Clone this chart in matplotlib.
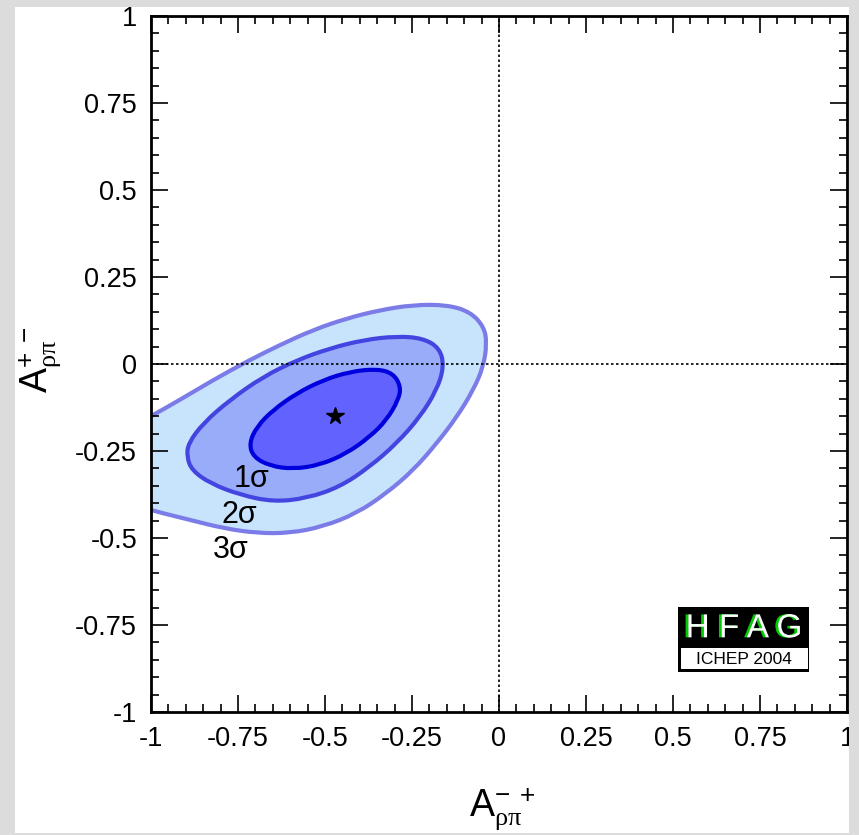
import matplotlib

matplotlib.use("Agg")
import matplotlib.patheffects as pe
import matplotlib.pyplot as plt
from matplotlib.patches import PathPatch, Rectangle
from matplotlib.path import Path
from matplotlib.ticker import MultipleLocator

plt.rcParams["font.family"] = ["Liberation Sans", "DejaVu Sans"]
plt.rcParams["mathtext.fontset"] = "custom"
plt.rcParams["mathtext.rm"] = "Liberation Serif"
plt.rcParams["mathtext.sf"] = "Liberation Sans"
plt.rcParams["mathtext.it"] = "Liberation Serif:italic"

# confidence-level contours in the (A_rho_pi^-+, A_rho_pi^+-) plane
cl1_x = [-0.718, -0.696, -0.649, -0.581, -0.505, -0.428, -0.351, -0.304, -0.282,
         -0.289, -0.323, -0.371, -0.438, -0.514, -0.591, -0.658, -0.706]
cl1_y = [-0.228, -0.180, -0.132, -0.084, -0.046, -0.022, -0.014, -0.027, -0.065,
         -0.103, -0.161, -0.209, -0.257, -0.290, -0.302, -0.293, -0.267]

cl2_x = [-0.897, -0.893, -0.850, -0.773, -0.677, -0.581, -0.486, -0.390, -0.294,
         -0.218, -0.170, -0.158, -0.179, -0.227, -0.294, -0.371, -0.457, -0.553,
         -0.649, -0.744, -0.830, -0.883]
cl2_y = [-0.266, -0.228, -0.170, -0.103, -0.036, 0.011, 0.045, 0.069, 0.080,
         0.074, 0.045, -0.008, -0.075, -0.152, -0.228, -0.295, -0.353, -0.386,
         -0.396, -0.376, -0.343, -0.305]

# the 3 sigma region runs past the left edge of the frame
cl3_x = [-1.05, -0.998, -0.917, -0.821, -0.725, -0.629, -0.534, -0.438, -0.342,
         -0.246, -0.150, -0.083, -0.043, -0.035, -0.045, -0.074, -0.121, -0.179,
         -0.246, -0.323, -0.409, -0.505, -0.601, -0.696, -0.792, -0.888, -0.965,
         -0.998, -1.05]
cl3_y = [-0.177, -0.149, -0.103, -0.046, 0.007, 0.055, 0.098, 0.131, 0.155,
         0.170, 0.170, 0.150, 0.107, 0.059, -0.008, -0.075, -0.152, -0.228,
         -0.305, -0.371, -0.429, -0.467, -0.486, -0.486, -0.472, -0.448, -0.429,
         -0.420, -0.405]

best_fit = (-0.47, -0.15)

sigma_labels = ["1σ", "2σ", "3σ"]
sigma_label_pos = [(-0.71, -0.33), (-0.745, -0.435), (-0.77, -0.535)]

tick_values = [-1, -0.75, -0.5, -0.25, 0, 0.25, 0.5, 0.75, 1]
tick_labels = ["-1", "-0.75", "-0.5", "-0.25", "0", "0.25", "0.5", "0.75", "1"]


def smooth_closed_path(xs, ys):
    """Closed outline through quadratic Bezier segments between vertex midpoints."""
    pts = list(zip(xs, ys))
    n = len(pts)
    mids = [((pts[i][0] + pts[(i + 1) % n][0]) / 2,
             (pts[i][1] + pts[(i + 1) % n][1]) / 2) for i in range(n)]
    verts = [mids[-1]]
    codes = [Path.MOVETO]
    for i in range(n):
        verts += [pts[i], mids[i]]
        codes += [Path.CURVE3, Path.CURVE3]
    verts.append(mids[-1])
    codes.append(Path.CLOSEPOLY)
    return Path(verts, codes)


fig = plt.figure(figsize=(8.59, 8.35), dpi=100, facecolor="#dcdcdc")
fig.patches.append(Rectangle((15 / 859, 2 / 835), 834 / 859, 826 / 835,
                             transform=fig.transFigure, facecolor="white",
                             edgecolor="none", zorder=-10))
ax = fig.add_axes([151 / 859, 123 / 835, 696 / 859, 696 / 835])

regions = [
    (cl3_x, cl3_y, "#c8e4fc", "#7c7ce8"),
    (cl2_x, cl2_y, "#98acfa", "#4444e0"),
    (cl1_x, cl1_y, "#6262ff", "#0000dd"),
]
for xs, ys, fill, edge in regions:
    ax.add_patch(PathPatch(smooth_closed_path(xs, ys), facecolor=fill,
                           edgecolor=edge, linewidth=3, zorder=1))

ax.plot(*best_fit, marker="*", color="black", markersize=13, zorder=3)

for label, (lx, ly) in zip(sigma_labels, sigma_label_pos):
    ax.text(lx, ly, label, fontsize=22, ha="center", va="center", zorder=3)

ax.axhline(0, color="black", linewidth=1.2, linestyle=(0, (1.5, 1.5)), zorder=2)
ax.axvline(0, color="black", linewidth=1.2, linestyle=(0, (1.5, 1.5)), zorder=2)

ax.set_xlim(-1, 1)
ax.set_ylim(-1, 1)
ax.set_xticks(tick_values)
ax.set_xticklabels(tick_labels)
ax.set_yticks(tick_values)
ax.set_yticklabels(tick_labels)
ax.xaxis.set_minor_locator(MultipleLocator(0.05))
ax.yaxis.set_minor_locator(MultipleLocator(0.05))
ax.tick_params(which="both", direction="in", top=True, right=True,
               labelsize=19.5, width=1.2, colors="black")
ax.tick_params(which="major", length=12)
ax.tick_params(which="minor", length=5.5)
ax.tick_params(axis="x", pad=10)
ax.tick_params(axis="y", pad=10)
for spine in ax.spines.values():
    spine.set_linewidth(2)

fig.text(502 / 859, 1 - 809 / 835, r"$\mathsf{A}_{\mathrm{\rho\pi}}^{\mathsf{-\ +}}$",
         fontsize=27, ha="center", va="center")
fig.text(40 / 859, 1 - 360 / 835, r"$\mathsf{A}_{\mathrm{\rho\pi}}^{\mathsf{+\ -}}$",
         fontsize=27, ha="center", va="center", rotation=90)

# HFAG badge: white lettering with a green drop shadow
ax.add_patch(Rectangle((0.514, -0.885), 0.377, 0.187, facecolor="black",
                       edgecolor="none", zorder=4))
ax.add_patch(Rectangle((0.523, -0.876), 0.365, 0.060, facecolor="white",
                       edgecolor="none", zorder=5))
ax.text(0.704, -0.761, "H F A G", fontsize=24, color="white", ha="center",
        va="center", zorder=6,
        path_effects=[pe.withSimplePatchShadow(offset=(-2, 0),
                                               shadow_rgbFace="#00cc00",
                                               alpha=1.0)])
ax.text(0.704, -0.848, "ICHEP 2004", fontsize=12.5, color="black", ha="center",
        va="center", zorder=6)

# grey frame drawn over everything that spills past the page edge
fig.patches.append(Rectangle((849 / 859, 0), 10 / 859, 1,
                             transform=fig.transFigure, facecolor="#dcdcdc",
                             edgecolor="none", zorder=10))

fig.savefig("out.png", dpi=100, facecolor=fig.get_facecolor())
